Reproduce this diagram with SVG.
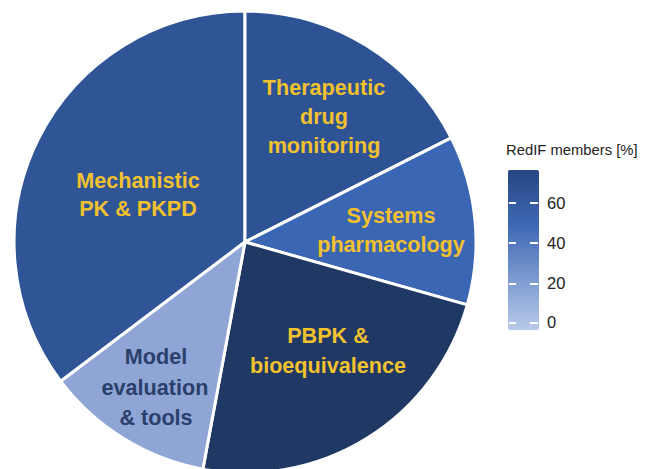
<svg xmlns="http://www.w3.org/2000/svg" width="649" height="469" viewBox="0 0 649 469">
<defs>
<linearGradient id="cbar" x1="0" y1="0" x2="0" y2="1">
<stop offset="0" stop-color="#274682"/>
<stop offset="0.35" stop-color="#3F68B4"/>
<stop offset="1" stop-color="#B8CAEA"/>
</linearGradient>
</defs>
<style>
.slice{stroke:#FFFFFF;stroke-width:3;stroke-linejoin:round}
.lbl{font-family:"Liberation Sans",Arial,sans-serif;font-weight:bold;font-size:21.6px;fill:#F2C12E;text-anchor:middle}
.dark{fill:#2B3F6B}
.leg{font-family:"Liberation Sans",Arial,sans-serif;font-size:16.5px;fill:#222222}
.title{font-family:"Liberation Sans",Arial,sans-serif;font-size:14.8px;fill:#222222}
.tick{stroke:#FFFFFF;stroke-width:2}
</style>
<rect width="649" height="469" fill="#FFFFFF"/>
<g id="mechanistic">
<path class="slice" d="M245,242 L60.8,381.3 A231,231 0 0 1 245,11 Z" fill="#2F5597"/>
<text class="lbl" x="138" y="188">Mechanistic</text>
<text class="lbl" x="138" y="216">PK &amp; PKPD</text>
</g>
<g id="tdm">
<path class="slice" d="M245,242 L245,11 A231,231 0 0 1 451.2,137.8 Z" fill="#2E5395"/>
<text class="lbl" x="324" y="95">Therapeutic</text>
<text class="lbl" x="324" y="124">drug</text>
<text class="lbl" x="324" y="153">monitoring</text>
</g>
<g id="systems">
<path class="slice" d="M245,242 L451.2,137.8 A231,231 0 0 1 467.3,304.9 Z" fill="#3B66B4"/>
<text class="lbl" x="391" y="223">Systems</text>
<text class="lbl" x="391" y="252">pharmacology</text>
</g>
<g id="pbpk">
<path class="slice" d="M245,242 L467.3,304.9 A231,231 0 0 1 202.9,469.1 Z" fill="#1F3864"/>
<text class="lbl" x="328" y="343">PBPK &amp;</text>
<text class="lbl" x="328" y="373">bioequivalence</text>
</g>
<g id="model">
<path class="slice" d="M245,242 L202.9,469.1 A231,231 0 0 1 60.8,381.3 Z" fill="#8FA5D6"/>
<text class="lbl dark" x="156" y="364">Model</text>
<text class="lbl dark" x="155" y="395">evaluation</text>
<text class="lbl dark" x="156" y="425">&amp; tools</text>
</g>
<g id="legend">
<text class="title" x="506" y="155">RedIF members [%]</text>
<rect x="508" y="170" width="31" height="160" rx="2" fill="url(#cbar)"/>
<g class="tick">
<line x1="509" y1="203" x2="516" y2="203"/><line x1="530" y1="203" x2="538" y2="203"/>
<line x1="509" y1="243" x2="516" y2="243"/><line x1="530" y1="243" x2="538" y2="243"/>
<line x1="509" y1="284" x2="516" y2="284"/><line x1="530" y1="284" x2="538" y2="284"/>
<line x1="509" y1="323" x2="516" y2="323"/><line x1="530" y1="323" x2="538" y2="323"/>
</g>
<text class="leg" x="547" y="209">60</text>
<text class="leg" x="547" y="249">40</text>
<text class="leg" x="547" y="289">20</text>
<text class="leg" x="547" y="328">0</text>
</g>
</svg>
